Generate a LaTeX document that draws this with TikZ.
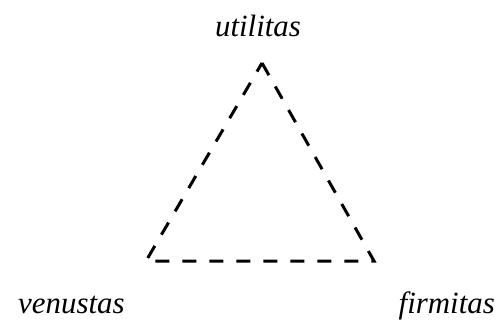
\documentclass[tikz,border=0pt]{standalone}
\usepackage{fontspec}
\setmainfont{Liberation Serif}
\usepackage{tikz}
\usetikzlibrary{positioning}

\tikzset{
    side/.style={line width=3bp, dash pattern=on 14bp off 13bp},
    word/.style={font=\fontsize{31}{36}\selectfont\itshape, inner sep=0pt},
}

\begin{document}
\begin{tikzpicture}[x=1bp, y=1bp]
    \useasboundingbox (0,0) rectangle (502,324);

    \coordinate (u) at (262,261);
    \coordinate (v) at (146,63);
    \coordinate (f) at (374,63);

    \draw[side] (u) -- (f) -- (v) -- cycle;

    \node[word, anchor=base] (util) at (258,288) {utilitas};
    \node[word, anchor=base west] (venu) at (18,11) {venustas};
    \node[word, anchor=base east] (firm) at (495,11) {firmitas};
\end{tikzpicture}
\end{document}
